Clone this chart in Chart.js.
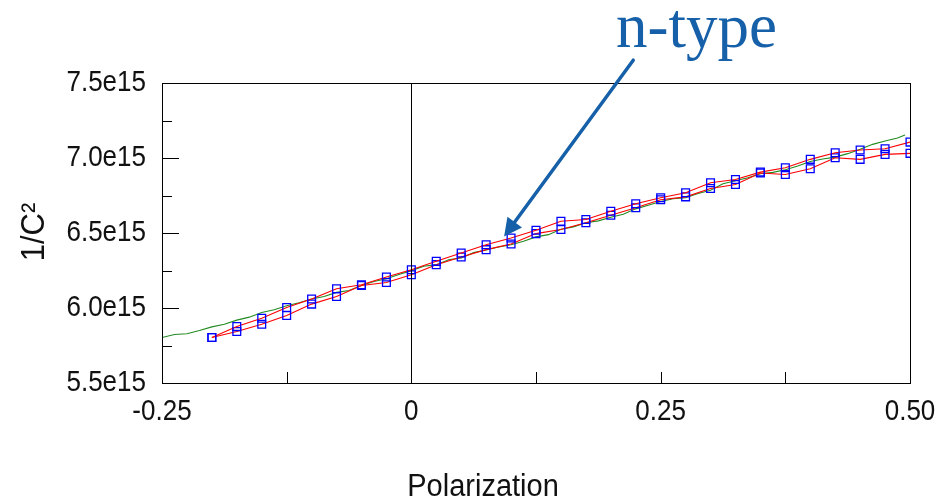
<!DOCTYPE html>
<html>
<head>
<meta charset="utf-8">
<script src="https://cdn.jsdelivr.net/npm/chart.js@4/dist/chart.umd.min.js"></script>
<style>
  html, body { margin: 0; padding: 0; background: #ffffff; }
  #wrap { width: 948px; height: 502px; }
</style>
</head>
<body>
<div id="wrap"><canvas id="c" width="948" height="502"></canvas></div>
<script>
// ---------- data (1/C² values in units of 1e15) ----------
const markerX = [-0.2, -0.175, -0.15, -0.125, -0.1, -0.075, -0.05, -0.025, 0, 0.025, 0.05, 0.075, 0.1, 0.125,
  0.15, 0.175, 0.2, 0.225, 0.25, 0.275, 0.3, 0.325, 0.35, 0.375, 0.4, 0.425, 0.45, 0.475, 0.5];
const sweepUp = [5.803, 5.876, 5.932, 6.003, 6.060, 6.128, 6.155, 6.207, 6.255, 6.311, 6.367, 6.422, 6.467, 6.518,
  6.578, 6.590, 6.645, 6.695, 6.735, 6.768, 6.835, 6.857, 6.906, 6.935, 6.991, 7.035, 7.053, 7.062, 7.106];
const sweepDown = [5.803, 5.843, 5.892, 5.950, 6.026, 6.077, 6.150, 6.170, 6.222, 6.289, 6.340, 6.389, 6.427, 6.496,
  6.523, 6.568, 6.618, 6.668, 6.722, 6.741, 6.797, 6.823, 6.900, 6.890, 6.928, 7.002, 6.991, 7.024, 7.031];

const fitX = [-0.25, -0.2375, -0.225, -0.2125, -0.2, -0.1875, -0.175, -0.1625, -0.15, -0.1375, -0.125, -0.1125,
  -0.1, -0.0875, -0.075, -0.0625, -0.05, -0.0375, -0.025, -0.0125, 0, 0.0125, 0.025, 0.0375, 0.05, 0.0625, 0.075,
  0.0875, 0.1, 0.1125, 0.125, 0.1375, 0.15, 0.1625, 0.175, 0.1875, 0.2, 0.2125, 0.225, 0.2375, 0.25, 0.2625, 0.275,
  0.2875, 0.3, 0.3125, 0.325, 0.3375, 0.35, 0.3625, 0.375, 0.3875, 0.4, 0.4125, 0.425, 0.4375, 0.45, 0.4625, 0.475,
  0.4875, 0.495];
const fitY = [5.803, 5.823, 5.828, 5.850, 5.874, 5.892, 5.919, 5.939, 5.970, 5.988, 6.015, 6.035,
  6.060, 6.077, 6.104, 6.117, 6.150, 6.177, 6.195, 6.224, 6.249, 6.278, 6.289, 6.322, 6.334, 6.369, 6.387,
  6.407, 6.422, 6.445, 6.474, 6.489, 6.525, 6.541, 6.568, 6.581, 6.605, 6.625, 6.661, 6.685, 6.710, 6.728, 6.735,
  6.763, 6.785, 6.828, 6.848, 6.868, 6.895, 6.904, 6.922, 6.946, 6.977, 6.993, 7.006, 7.029, 7.058, 7.091, 7.113,
  7.133, 7.153];

const xTickValues = [-0.25, 0, 0.25, 0.5];
const xTickLabels = ['-0.25', '0', '0.25', '0.50'];
const yTickValues = [5.5, 6.0, 6.5, 7.0, 7.5];
const yTickLabels = ['5.5e15', '6.0e15', '6.5e15', '7.0e15', '7.5e15'];

const xTitle = 'Polarization';
const yTitle = '1/C²';
const noteText = 'n-type';
const noteTextAt = [0.286, 7.739];     // data coords of label (centre x, baseline y)
const noteArrowFrom = [0.2225, 7.652]; // data coords
const noteArrowTo = [0.093, 6.476];    // data coords (arrow tip)

// ---------- build ----------
const E = 1e15;
const pts = (xs, ys) => xs.map((x, i) => ({ x: x, y: ys[i] * E }));
const FONT = "'Liberation Sans', Arial, sans-serif";
const NOTE_BLUE = '#1560a8';
const TEXT = '#111';

function findLabel(vals, labels, v, scale) {
  for (let i = 0; i < vals.length; i++) if (Math.abs(vals[i] * scale - v) < 1e-6 * Math.max(1, Math.abs(v))) return labels[i];
  return '';
}

function stretchedText(ctx, s, x, y, sy) {
  ctx.save();
  ctx.translate(x, y);
  ctx.scale(1, sy);
  ctx.fillText(s, 0, 0);
  ctx.restore();
}

const framePlugin = {
  id: 'frame',
  afterDatasetsDraw(chart) {
    const { ctx, chartArea: a, scales } = chart;
    ctx.save();
    ctx.strokeStyle = '#000';
    ctx.lineWidth = 1;
    const x0 = Math.round(scales.x.getPixelForValue(0)) + 0.5;
    ctx.beginPath(); ctx.moveTo(x0, a.top); ctx.lineTo(x0, a.bottom); ctx.stroke();
    ctx.strokeRect(Math.round(a.left) + 0.5, Math.round(a.top) + 0.5, Math.round(a.right - a.left), Math.round(a.bottom - a.top));
    scales.x.ticks.forEach(t => {
      const px = Math.round(scales.x.getPixelForValue(t.value)) + 0.5;
      ctx.beginPath(); ctx.moveTo(px, a.bottom); ctx.lineTo(px, a.bottom - 11); ctx.stroke();
    });
    scales.y.ticks.forEach(t => {
      const py = Math.round(scales.y.getPixelForValue(t.value)) + 0.5;
      const major = findLabel(yTickValues, yTickLabels, t.value, E) !== '';
      ctx.beginPath(); ctx.moveTo(a.left, py); ctx.lineTo(a.left + (major ? 17 : 10), py); ctx.stroke();
    });
    ctx.restore();
  },
  afterDraw(chart) {
    const { ctx, chartArea: a, scales } = chart;
    const X = v => scales.x.getPixelForValue(v), Y = v => scales.y.getPixelForValue(v * E);
    ctx.save();
    // tick labels
    ctx.fillStyle = TEXT;
    ctx.font = '26px ' + FONT;
    ctx.textBaseline = 'middle';
    ctx.textAlign = 'right';
    yTickValues.forEach((v, i) => stretchedText(ctx, yTickLabels[i], a.left - 16, Y(v), 1.14));
    ctx.textAlign = 'center';
    xTickValues.forEach((v, i) => stretchedText(ctx, xTickLabels[i], X(v), a.bottom + 29, 1.14));
    // axis titles
    ctx.font = '29px ' + FONT;
    stretchedText(ctx, xTitle, 483, 487, 1.1);
    ctx.font = '31px ' + FONT;
    ctx.save();
    ctx.translate(35, 232);
    ctx.rotate(-Math.PI / 2);
    ctx.scale(1, 1.05);
    ctx.fillText(yTitle, 0, 0);
    ctx.restore();
    // arrow
    const x1 = X(noteArrowFrom[0]), y1 = Y(noteArrowFrom[1]);
    const x2 = X(noteArrowTo[0]), y2 = Y(noteArrowTo[1]);
    const ang = Math.atan2(y2 - y1, x2 - x1);
    const headLen = 18, headHalf = 9;
    const bx = x2 - headLen * Math.cos(ang), by = y2 - headLen * Math.sin(ang);
    ctx.strokeStyle = NOTE_BLUE; ctx.fillStyle = NOTE_BLUE;
    ctx.lineWidth = 3.5; ctx.lineCap = 'round';
    ctx.beginPath(); ctx.moveTo(x1, y1); ctx.lineTo(bx, by); ctx.stroke();
    ctx.beginPath();
    ctx.moveTo(x2, y2);
    ctx.lineTo(bx + headHalf * Math.sin(ang), by - headHalf * Math.cos(ang));
    ctx.lineTo(bx - headHalf * Math.sin(ang), by + headHalf * Math.cos(ang));
    ctx.closePath(); ctx.fill();
    // label
    ctx.font = "63px 'Liberation Serif', 'Times New Roman', serif";
    ctx.textAlign = 'center'; ctx.textBaseline = 'alphabetic';
    ctx.fillText(noteText, X(noteTextAt[0]), Y(noteTextAt[1]));
    ctx.restore();
  }
};

new Chart(document.getElementById('c'), {
  type: 'scatter',
  data: {
    datasets: [
      { label: 'fit', data: pts(fitX, fitY), showLine: true, borderColor: '#228b22', borderWidth: 1.1,
        pointRadius: 0, fill: false, tension: 0, order: 3 },
      { label: 'up', data: pts(markerX, sweepUp), showLine: true, borderColor: '#ff0000', borderWidth: 1.1,
        pointStyle: 'rect', pointRadius: 5.5, pointBorderColor: '#0000ff', pointBackgroundColor: 'rgba(0,0,0,0)',
        pointBorderWidth: 1.3, fill: false, tension: 0, order: 1 },
      { label: 'down', data: pts(markerX, sweepDown), showLine: true, borderColor: '#ff0000', borderWidth: 1.1,
        pointStyle: 'rect', pointRadius: 5.5, pointBorderColor: '#0000ff', pointBackgroundColor: 'rgba(0,0,0,0)',
        pointBorderWidth: 1.3, fill: false, tension: 0, order: 2 }
    ]
  },
  options: {
    responsive: false,
    animation: false,
    events: [],
    layout: { padding: { top: 83, right: 38, left: 0, bottom: 0 } },
    plugins: { legend: { display: false }, tooltip: { enabled: false } },
    scales: {
      x: {
        type: 'linear', min: -0.25, max: 0.5,
        grid: { display: false, drawTicks: false },
        border: { display: false },
        ticks: { display: false, stepSize: 0.125, autoSkip: false },
        afterFit: s => { s.height = 119; }
      },
      y: {
        type: 'linear', min: 5.5 * E, max: 7.5 * E,
        grid: { display: false, drawTicks: false },
        border: { display: false },
        ticks: { display: false, stepSize: 0.25 * E, autoSkip: false },
        afterFit: s => { s.width = 162; }
      }
    }
  },
  plugins: [framePlugin]
});
</script>
</body>
</html>
